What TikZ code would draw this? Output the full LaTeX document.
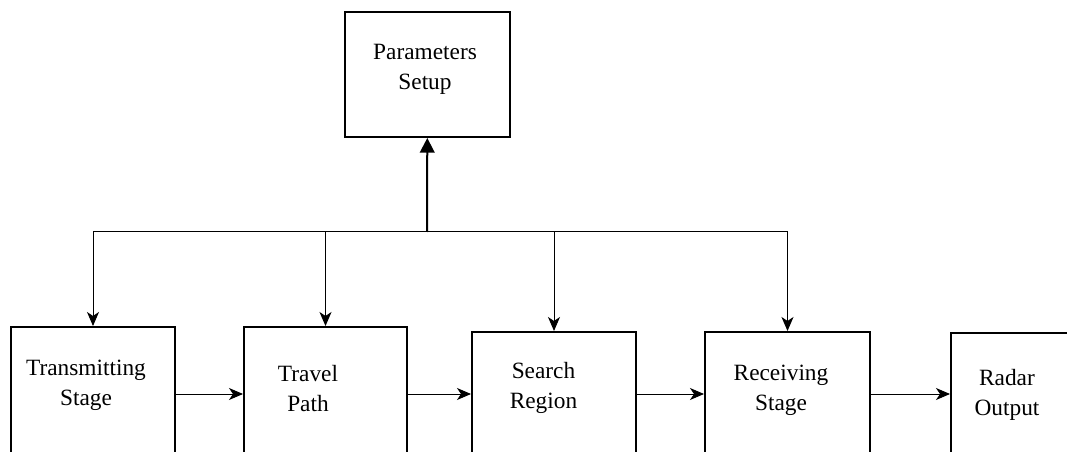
\documentclass[tikz,border=0pt]{standalone}
\usepackage{fontspec}
\setmainfont{Liberation Serif}
\usetikzlibrary{positioning,arrows.meta}

\begin{document}
\begin{tikzpicture}[x=0.75pt,y=-0.75pt,
		boxnode/.style={rectangle,draw,line width=1.5pt,minimum width=123pt,inner sep=0pt},
		textnode/.style={align=center,inner sep=0pt,font=\fontsize{17.5}{22.5}\selectfont},
		flow/.style={-{Stealth[length=10.5pt,width=9pt,inset=3pt]},line width=0.75pt}]
		\useasboundingbox (0,0) rectangle (1067,452);
		\clip (0,0) rectangle (1067,452);

		\node[boxnode,minimum width=123.75pt,minimum height=93.75pt]				(ps)	at (427.5,74.5)	{};
		\node[boxnode,minimum height=100.5pt]										(ts)	at (93,394)		{};
		\node[boxnode,minimum width=122.25pt,minimum height=100.5pt,node distance=50.25pt,right=of ts]	(tp)	{};
		\node[boxnode,minimum height=93pt,node distance=47.25pt,right=of tp]		(sr)	{};
		\node[boxnode,minimum width=123.75pt,minimum height=93pt,node distance=50.25pt,right=of sr]	(rs)	{};
		\node[boxnode,minimum height=91.5pt,node distance=59.25pt,right=of rs]		(ro)	{};

		\node[textnode]	(pst)	at ([shift={(-2.5,-5)}]ps.center)	{Parameters\\Setup};
		\node[textnode]	(tst)	at ([shift={(-7,-8.5)}]ts.center)	{Transmitting\\Stage};
		\node[textnode]	(tpt)	at ([shift={(-17.5,-5)}]tp.center)	{Travel\\Path};
		\node[textnode]	(srt)	at ([shift={(-10.5,-6)}]sr.center)	{Search\\Region};
		\node[textnode]	(rst)	at ([shift={(-6.5,-4)}]rs.center)	{Receiving\\Stage};
		\node[textnode]	(rot)	at ([shift={(-26,1)}]ro.center)		{Radar\\Output};

		\coordinate (bus) at (427,232);
		\draw[line width=1.5pt,-{Triangle[length=11pt,width=11pt]}] (bus) -- (ps);
		\draw[line width=0.75pt] (bus -| ts) -- (bus -| rs);
		\foreach \n in {ts,tp,sr,rs}
			\draw[flow] (bus -| \n) -- (\n);

		\draw[flow] (ts) -- (tp);
		\draw[flow] (tp) -- (sr);
		\draw[flow] (sr) -- (rs);
		\draw[flow] (rs) -- (ro);
	\end{tikzpicture}
\end{document}
